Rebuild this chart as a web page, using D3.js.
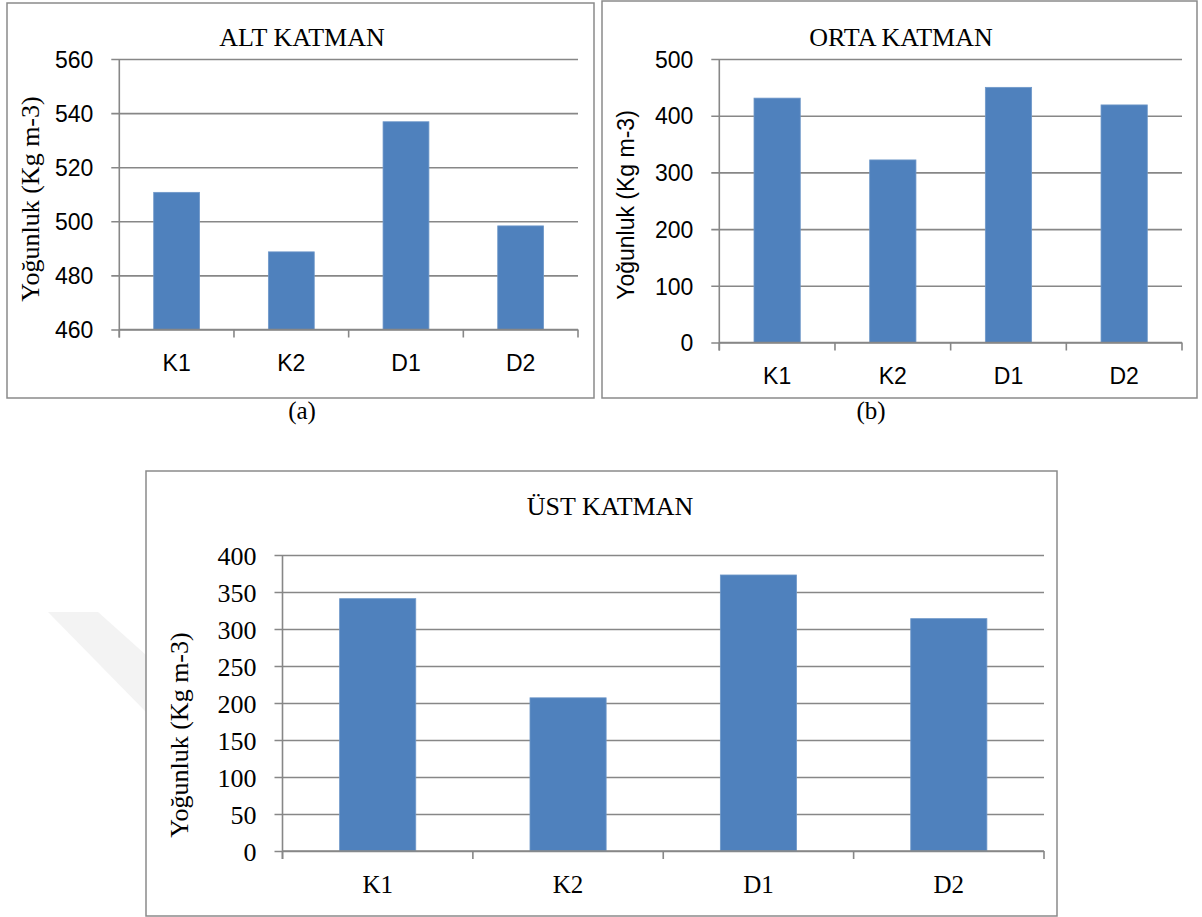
<!DOCTYPE html>
<html>
<head>
<meta charset="utf-8">
<script src="https://cdn.jsdelivr.net/npm/d3@7"></script>
<style>
  body { margin: 0; background: #fff; }
  svg { display: block; }
</style>
</head>
<body>
<div id="chart"></div>
<script>
// categories and values
const categories = ["K1", "K2", "D1", "D2"];
const altValues = [510.7, 488.7, 536.8, 498.3];
const ortaValues = [431, 322, 450, 419];
const ustValues = [341, 207, 373, 314];
const altTicks = [460, 480, 500, 520, 540, 560];
const ortaTicks = [0, 100, 200, 300, 400, 500];
const ustTicks = [0, 50, 100, 150, 200, 250, 300, 350, 400];
const yLabel = "Yoğunluk (Kg m-3)";

const SANS = "'Liberation Sans', Arial, sans-serif";
const SERIF = "'Liberation Serif', 'Times New Roman', serif";
const BAR = "#4f81bd";
const GRID = "#878787";

const svg = d3.select('#chart')
    .append('svg')
    .attr('width', 1202)
    .attr('height', 917);

// faint watermark strip behind the bottom panel
svg.append('polygon')
    .attr('points', '48,612 98,612 146,655 146,712')
    .attr('fill', '#f3f3f3');

function drawPanel(p) {
    // frame
    svg.append('rect')
        .attr('x', p.box[0]).attr('y', p.box[1])
        .attr('width', p.box[2]).attr('height', p.box[3])
        .attr('fill', '#fff')
        .attr('stroke', '#8a8a8a')
        .attr('stroke-width', 1.5);

    const x = d3.scaleBand()
        .domain(categories)
        .range([p.left, p.right])
        .paddingInner(0.6)
        .paddingOuter(0.3);

    const y = d3.scaleLinear()
        .domain([p.ticks[0], p.ticks[p.ticks.length - 1]])
        .range([p.bottom, p.top]);

    // y axis with full-width gridlines
    const yAxis = svg.append('g')
        .attr('transform', `translate(${p.left},0)`)
        .call(d3.axisLeft(y)
            .tickValues(p.ticks)
            .tickSize(-(p.right - p.left))
            .tickPadding(26)
            .tickFormat(d3.format('d')));
    yAxis.select('.domain').remove();
    yAxis.selectAll('.tick line')
        .attr('x1', -8)
        .attr('stroke', GRID)
        .attr('stroke-width', 1.6);
    yAxis.selectAll('.tick text')
        .attr('font-family', p.tickFont)
        .attr('font-size', p.tickSize)
        .attr('fill', '#000')
        .attr('dy', '0.36em');

    // bars
    svg.append('g')
        .selectAll('rect')
        .data(p.values)
        .join('rect')
        .attr('x', (d, i) => x(categories[i]))
        .attr('y', d => y(d))
        .attr('width', x.bandwidth())
        .attr('height', d => p.bottom - y(d))
        .attr('fill', BAR)
        .attr('stroke', '#6f98c9')
        .attr('stroke-width', 0.8);

    // vertical axis line, running a little past the base
    svg.append('line')
        .attr('x1', p.left).attr('x2', p.left)
        .attr('y1', p.top).attr('y2', p.bottom + 8)
        .attr('stroke', GRID)
        .attr('stroke-width', 1.6);

    // category axis: labels from axisBottom, ticks on band edges
    const xAxis = svg.append('g')
        .attr('transform', `translate(0,${p.bottom})`)
        .call(d3.axisBottom(x).tickSize(0).tickPadding(p.catPad));
    xAxis.select('.domain')
        .attr('stroke', GRID)
        .attr('stroke-width', 1.6)
        .attr('d', `M${p.left},0H${p.right}`);
    xAxis.selectAll('.tick text')
        .attr('font-family', p.catFont)
        .attr('font-size', p.catSize)
        .attr('fill', '#000');
    const edges = d3.range(categories.length + 1).map(i => p.left + i * x.step());
    xAxis.selectAll('line.edge')
        .data(edges)
        .join('line')
        .attr('class', 'edge')
        .attr('x1', d => d).attr('x2', d => d)
        .attr('y1', 0).attr('y2', 8)
        .attr('stroke', GRID)
        .attr('stroke-width', 1.6);

    // title
    svg.append('text')
        .attr('x', p.titleX)
        .attr('y', p.titleY)
        .attr('text-anchor', 'middle')
        .attr('font-family', SERIF)
        .attr('font-size', 26)
        .text(p.title);

    // y label
    svg.append('text')
        .attr('transform', `translate(${p.labelX},${p.labelY}) rotate(-90)`)
        .attr('text-anchor', 'middle')
        .attr('font-family', p.labelFont)
        .attr('font-size', p.labelSize)
        .text(yLabel);
}

drawPanel({
    title: "ALT KATMAN", titleX: 302, titleY: 46,
    box: [7, 3, 587, 395],
    left: 119.3, right: 578, top: 59, bottom: 329.5,
    values: altValues, ticks: altTicks,
    tickFont: SANS, tickSize: 23,
    catFont: SANS, catSize: 23, catPad: 25,
    labelX: 39, labelY: 199, labelFont: SERIF, labelSize: 26
});

drawPanel({
    title: "ORTA KATMAN", titleX: 901, titleY: 46,
    box: [602, 1, 595, 397],
    left: 719.3, right: 1182, top: 59, bottom: 342.5,
    values: ortaValues, ticks: ortaTicks,
    tickFont: SANS, tickSize: 23,
    catFont: SANS, catSize: 23, catPad: 25,
    labelX: 634, labelY: 205, labelFont: SANS, labelSize: 23
});

drawPanel({
    title: "ÜST KATMAN", titleX: 610, titleY: 515,
    box: [146, 471, 911, 445],
    left: 282.5, right: 1044, top: 555, bottom: 851,
    values: ustValues, ticks: ustTicks,
    tickFont: SERIF, tickSize: 26,
    catFont: SERIF, catSize: 25, catPad: 24,
    labelX: 188, labelY: 735, labelFont: SERIF, labelSize: 26
});

// sub-figure letters
svg.append('text')
    .attr('x', 302).attr('y', 419)
    .attr('text-anchor', 'middle')
    .attr('font-family', SERIF)
    .attr('font-size', 25)
    .text('(a)');
svg.append('text')
    .attr('x', 871).attr('y', 419)
    .attr('text-anchor', 'middle')
    .attr('font-family', SERIF)
    .attr('font-size', 25)
    .text('(b)');
</script>
</body>
</html>
